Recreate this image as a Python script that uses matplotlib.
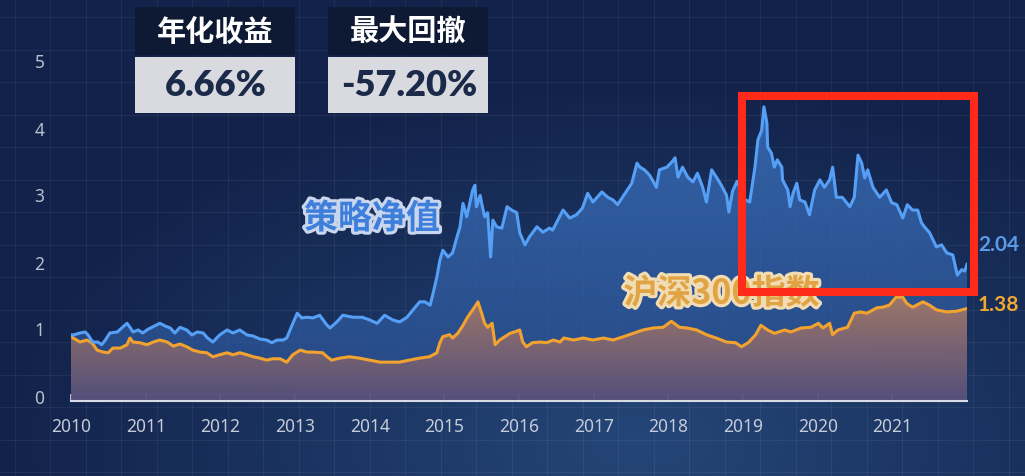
import numpy as np
import matplotlib
matplotlib.use("Agg")
import matplotlib.pyplot as plt
from matplotlib.patches import Rectangle, Polygon
from matplotlib.transforms import ScaledTranslation
import matplotlib.patheffects as pe
from matplotlib.colors import to_rgb

plt.rcParams['font.family'] = ['Noto Sans', 'Noto Sans CJK SC', 'DejaVu Sans']
cjk = ['Noto Sans CJK SC', 'DejaVu Sans']
num = ['Lato', 'Roboto', 'DejaVu Sans']

# strategy NAV (策略净值)
strat_t = [2010.00, 2010.03, 2010.12, 2010.19, 2010.23, 2010.29, 2010.36, 2010.41, 2010.46, 2010.52,
           2010.62, 2010.68, 2010.75, 2010.79, 2010.83, 2010.90, 2010.96, 2011.03, 2011.12, 2011.19,
           2011.26, 2011.33, 2011.39, 2011.46, 2011.55, 2011.62, 2011.69, 2011.77, 2011.83, 2011.90,
           2011.99, 2012.09, 2012.17, 2012.26, 2012.36, 2012.44, 2012.53, 2012.62, 2012.69, 2012.76,
           2012.84, 2012.89, 2012.96, 2013.03, 2013.09, 2013.16, 2013.24, 2013.33, 2013.43, 2013.47,
           2013.56, 2013.64, 2013.78, 2013.90, 2014.00, 2014.10, 2014.20, 2014.31, 2014.40, 2014.50,
           2014.58, 2014.67, 2014.74, 2014.81, 2014.85, 2014.90, 2014.94, 2014.98, 2015.05, 2015.11,
           2015.17, 2015.21, 2015.25, 2015.30, 2015.34, 2015.38, 2015.41, 2015.43, 2015.48, 2015.50,
           2015.54, 2015.58, 2015.62, 2015.65, 2015.70, 2015.77, 2015.84, 2015.90, 2015.97, 2016.01,
           2016.08, 2016.14, 2016.24, 2016.32, 2016.41, 2016.45, 2016.59, 2016.68, 2016.77, 2016.85,
           2016.92, 2016.99, 2017.11, 2017.19, 2017.26, 2017.32, 2017.42, 2017.51, 2017.58, 2017.62,
           2017.68, 2017.75, 2017.84, 2017.88, 2017.98, 2018.05, 2018.09, 2018.13, 2018.19, 2018.26,
           2018.33, 2018.39, 2018.46, 2018.51, 2018.58, 2018.65, 2018.71, 2018.78, 2018.81, 2018.86,
           2018.92, 2019.02, 2019.09, 2019.16, 2019.20, 2019.25, 2019.28, 2019.32, 2019.33, 2019.38,
           2019.42, 2019.46, 2019.52, 2019.53, 2019.60, 2019.63, 2019.67, 2019.72, 2019.76, 2019.83,
           2019.89, 2019.96, 2020.03, 2020.09, 2020.16, 2020.20, 2020.25, 2020.33, 2020.43, 2020.49,
           2020.54, 2020.59, 2020.63, 2020.67, 2020.74, 2020.83, 2020.92, 2020.99, 2021.06, 2021.14,
           2021.20, 2021.27, 2021.34, 2021.39, 2021.43, 2021.50, 2021.59, 2021.66, 2021.73, 2021.81,
           2021.87, 2021.93, 2021.97, 2022.00]
strat_v = [0.99, 0.985, 1.015, 1.03, 0.985, 0.88, 0.88, 0.84, 0.91, 1.015,
           1.03, 1.09, 1.16, 1.10, 1.03, 1.06, 1.015, 1.07, 1.12, 1.16,
           1.12, 1.09, 1.015, 1.10, 1.06, 0.985, 1.03, 1.015, 0.94, 0.88,
           0.985, 1.06, 1.015, 1.06, 0.985, 0.97, 0.925, 0.91, 0.87, 0.91,
           0.91, 0.94, 1.13, 1.31, 1.24, 1.25, 1.24, 1.28, 1.13, 1.09,
           1.18, 1.28, 1.25, 1.25, 1.21, 1.16, 1.28, 1.21, 1.18, 1.25,
           1.36, 1.48, 1.48, 1.43, 1.61, 1.85, 2.10, 2.25, 2.15, 2.21,
           2.45, 2.60, 2.95, 2.75, 2.95, 3.15, 3.22, 2.90, 3.07, 2.95,
           2.75, 2.81, 2.15, 2.70, 2.60, 2.58, 2.90, 2.85, 2.81, 2.51,
           2.33, 2.45, 2.60, 2.52, 2.58, 2.55, 2.85, 2.73, 2.78, 2.88,
           3.10, 2.97, 3.12, 3.04, 3.00, 2.93, 3.10, 3.25, 3.55, 3.49,
           3.45, 3.37, 3.19, 3.45, 3.49, 3.57, 3.63, 3.34, 3.49, 3.34,
           3.27, 3.40, 3.19, 2.97, 3.45, 3.33, 3.22, 3.07, 2.82, 3.13,
           3.28, 3.01, 2.97, 3.49, 3.90, 4.04, 4.39, 4.15, 3.79, 3.70,
           3.49, 3.60, 3.49, 3.30, 3.15, 2.90, 3.10, 3.25, 3.00, 2.97,
           2.78, 3.15, 3.30, 3.19, 3.30, 3.49, 3.04, 3.04, 2.90, 3.04,
           3.67, 3.55, 3.33, 3.45, 3.19, 3.04, 3.15, 2.96, 2.93, 2.73,
           2.93, 2.85, 2.85, 2.66, 2.60, 2.51, 2.30, 2.33, 2.21, 2.18,
           1.88, 1.96, 1.94, 2.04]

# CSI 300 (沪深300指数), normalised
hs300_t = [2010.00, 2010.03, 2010.12, 2010.21, 2010.28, 2010.35, 2010.43, 2010.50, 2010.56, 2010.66,
           2010.75, 2010.79, 2010.83, 2010.92, 2011.02, 2011.10, 2011.19, 2011.29, 2011.37, 2011.46,
           2011.55, 2011.63, 2011.73, 2011.82, 2011.90, 2011.99, 2012.09, 2012.17, 2012.26, 2012.36,
           2012.44, 2012.53, 2012.62, 2012.70, 2012.80, 2012.89, 2012.97, 2013.07, 2013.16, 2013.24,
           2013.37, 2013.43, 2013.49, 2013.60, 2013.73, 2013.86, 2014.00, 2014.14, 2014.27, 2014.40,
           2014.53, 2014.67, 2014.80, 2014.90, 2014.94, 2014.98, 2015.07, 2015.11, 2015.18, 2015.25,
           2015.31, 2015.38, 2015.44, 2015.45, 2015.50, 2015.54, 2015.58, 2015.64, 2015.68, 2015.74,
           2015.81, 2015.88, 2015.94, 2016.01, 2016.05, 2016.10, 2016.18, 2016.28, 2016.37, 2016.46,
           2016.55, 2016.60, 2016.73, 2016.86, 2016.99, 2017.13, 2017.26, 2017.40, 2017.53, 2017.66,
           2017.80, 2017.93, 2018.04, 2018.15, 2018.25, 2018.38, 2018.51, 2018.64, 2018.78, 2018.90,
           2018.98, 2019.07, 2019.17, 2019.24, 2019.33, 2019.42, 2019.56, 2019.64, 2019.78, 2019.91,
           2020.01, 2020.07, 2020.16, 2020.20, 2020.27, 2020.40, 2020.49, 2020.57, 2020.66, 2020.79,
           2020.87, 2020.96, 2021.05, 2021.14, 2021.19, 2021.27, 2021.41, 2021.50, 2021.59, 2021.73,
           2021.86, 2022.00]
hs300_v = [0.97, 0.94, 0.88, 0.91, 0.87, 0.76, 0.73, 0.72, 0.79, 0.79,
           0.84, 0.94, 0.88, 0.87, 0.84, 0.88, 0.91, 0.88, 0.82, 0.85,
           0.81, 0.76, 0.73, 0.72, 0.66, 0.69, 0.72, 0.69, 0.72, 0.69,
           0.66, 0.64, 0.61, 0.63, 0.63, 0.58, 0.69, 0.76, 0.73, 0.73,
           0.72, 0.66, 0.61, 0.64, 0.66, 0.64, 0.61, 0.58, 0.58, 0.58,
           0.61, 0.64, 0.66, 0.72, 0.87, 0.96, 0.99, 0.94, 1.01, 1.13,
           1.25, 1.36, 1.46, 1.48, 1.31, 1.16, 1.10, 1.16, 0.84, 0.91,
           0.96, 1.01, 1.03, 1.06, 0.88, 0.81, 0.87, 0.88, 0.87, 0.91,
           0.88, 0.94, 0.91, 0.94, 0.91, 0.94, 0.91, 0.96, 1.01, 1.06,
           1.09, 1.10, 1.19, 1.10, 1.09, 1.06, 0.99, 0.94, 0.88, 0.87,
           0.81, 0.87, 0.99, 1.13, 1.06, 1.01, 1.06, 1.03, 1.09, 1.10,
           1.16, 1.09, 1.16, 0.99, 1.06, 1.10, 1.31, 1.33, 1.31, 1.39,
           1.40, 1.43, 1.55, 1.55, 1.46, 1.40, 1.48, 1.43, 1.36, 1.33,
           1.34, 1.38]

years = list(range(2010, 2022))
y_ticks = [0, 1, 2, 3, 4, 5]
stat_titles = ["年化收益", "最大回撤"]
stat_values = ["6.66%", "-57.20%"]

W, H = 1025, 476
fig = plt.figure(figsize=(W / 100, H / 100), dpi=100)

# background: dark navy with soft glow and faint grid
bg = fig.add_axes([0, 0, 1, 1], zorder=0)
bg.set_xlim(0, W)
bg.set_ylim(H, 0)
bg.axis('off')
yy, xx = np.mgrid[0:H:2, 0:W:2]
d = np.sqrt(((xx - 640) / 650.0) ** 2 + ((yy - 440) / 360.0) ** 2)
t = np.clip(1 - d, 0, 1)[..., None]
c0 = np.array(to_rgb('#12224a'))
c1 = np.array(to_rgb('#244678'))
bg.imshow(c0 + (c1 - c0) * t, extent=[0, W, H, 0], aspect='auto', zorder=0)
for gx in np.arange(14.5, W, 35.5):
    bg.axvline(gx, color='white', alpha=0.06, lw=0.8, zorder=1)
for gy in np.arange(17, H, 32.5):
    bg.axhline(gy, color='white', alpha=0.06, lw=0.8, zorder=1)

# stat boxes
for i, (title, val) in enumerate(zip(stat_titles, stat_values)):
    x0 = 135 + i * 193
    bg.add_patch(Rectangle((x0, 7), 160, 48, facecolor='#0e1a33', edgecolor='none', zorder=3))
    bg.add_patch(Rectangle((x0, 57), 160, 56, facecolor='#d9dadf', edgecolor='none', zorder=3))
    bg.text(x0 + 80, 32, title, color='white', fontsize=21, fontweight='bold',
            family=cjk, ha='center', va='center', zorder=4)
    bg.text(x0 + 81, 86, val, color='#1b2a48', fontsize=26, fontweight='heavy',
            family=num, ha='center', va='center', zorder=4)

# main chart
ax = fig.add_axes([71 / W, (H - 401) / H, 896 / W, 401 / H], zorder=1)
ax.patch.set_alpha(0)


def grad_fill(ax, x, y, top, bot, a_top, a_bot, z):
    ymax = max(y)
    k = np.linspace(1, 0, 256)[:, None]
    rgba = np.zeros((256, 1, 4))
    rgba[:, 0, :3] = np.array(to_rgb(bot)) + (np.array(to_rgb(top)) - np.array(to_rgb(bot))) * k
    rgba[:, 0, 3] = (a_bot + (a_top - a_bot) * k)[:, 0]
    im = ax.imshow(rgba, extent=[x[0], x[-1], 0, ymax], aspect='auto', origin='upper', zorder=z)
    verts = np.vstack([[x[0], 0], np.column_stack([x, y]), [x[-1], 0]])
    poly = Polygon(verts, closed=True, facecolor='none', edgecolor='none')
    ax.add_patch(poly)
    im.set_clip_path(poly)


grad_fill(ax, strat_t, strat_v, '#3a6fba', '#2a5090', 0.85, 0.75, 1)
grad_fill(ax, hs300_t, hs300_v, '#a27868', '#56507a', 0.97, 0.95, 2)
ax.set_xlim(2010, 2022)
ax.set_ylim(0, 401 / 67)

ax.plot(hs300_t, hs300_v, color='#f2a22e', lw=2.2, zorder=4, solid_joinstyle='round')
ax.plot(strat_t, strat_v, color='#55a0f6', lw=2.2, zorder=5, solid_joinstyle='round')

# series labels
ax.text(2014.03, 2.73, "策略净值", color='#3f7fdc', fontsize=24.5, fontweight='bold', family=cjk,
        ha='center', va='center', zorder=6,
        path_effects=[pe.withStroke(linewidth=4.5, foreground='#c9d6ee')])
ax.text(2018.71, 1.61, "沪深300指数", color='#e0a444', fontsize=24.5, fontweight='bold', family=cjk,
        ha='center', va='center', zorder=6,
        path_effects=[pe.withStroke(linewidth=4.5, foreground='#f1dcb4')])

# highlight box around 2019-2021
ax.add_patch(Rectangle((2018.99, 1.62), 3.10, 2.93, fill=False, edgecolor='#ff2a1a',
                       lw=5.8, zorder=7, clip_on=False))

# end values
ax.annotate(f"{strat_v[-1]:.2f}", xy=(strat_t[-1], strat_v[-1]), xytext=(11, 19),
            textcoords='offset pixels', color='#5a9be8', fontsize=15, fontweight='bold',
            family=num, ha='left', va='center', annotation_clip=False)
ax.annotate(f"{hs300_v[-1]:.2f}", xy=(hs300_t[-1], hs300_v[-1]), xytext=(11, 4),
            textcoords='offset pixels', color='#f0a830', fontsize=15, fontweight='bold',
            family=num, ha='left', va='center', annotation_clip=False)

for s in ['top', 'right', 'left']:
    ax.spines[s].set_visible(False)
ax.spines['bottom'].set_color('#d8dce4')
ax.spines['bottom'].set_linewidth(1.5)
ax.spines['bottom'].set_zorder(8)

ax.set_xticks(years)
ax.set_xticklabels([str(y) for y in years])
ax.set_yticks(y_ticks)
ax.set_yticklabels([str(v) for v in y_ticks])
ax.tick_params(axis='x', direction='in', length=5, width=1.2, color='#d8dce4',
               labelsize=12.5, labelcolor='#c5cbd8', pad=12)
ax.tick_params(axis='y', length=0, labelsize=12.5, labelcolor='#b8c0d0', pad=19)
# y labels sit a little above their gridline values in the original
lift = ScaledTranslation(0, 0.045, fig.dpi_scale_trans)
for lab in ax.get_yticklabels():
    lab.set_transform(lab.get_transform() + lift)

fig.savefig("out.png", dpi=100, facecolor='#13234a')
